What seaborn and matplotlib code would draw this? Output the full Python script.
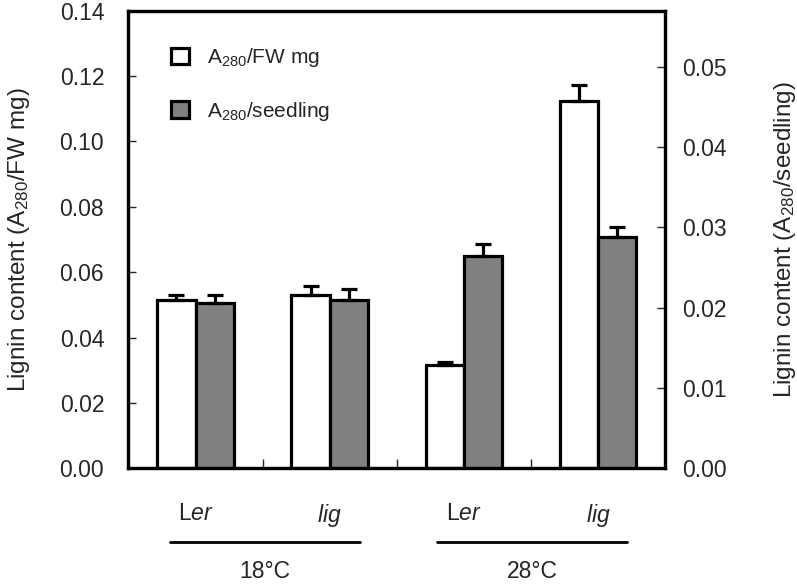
import matplotlib
matplotlib.use('Agg')
import matplotlib.pyplot as plt
import matplotlib.transforms as mtransforms
from matplotlib.patches import Patch
import seaborn as sns
import pandas as pd
import numpy as np

# Daten
categories = ['Ler 18', 'lig 18', 'Ler 28', 'lig 28']
tick_labels = [r'L$\mathit{er}$', r'$\mathit{lig}$', r'L$\mathit{er}$', r'$\mathit{lig}$']
groups = ['18°C', '28°C']
series = ['A280/FW mg', 'A280/seedling']
fw_mean = [0.0515, 0.0530, 0.0316, 0.1123]
fw_err = [0.0015, 0.0028, 0.0009, 0.0051]
seedling_mean = [0.0206, 0.0210, 0.0264, 0.0288]
seedling_err = [0.0010, 0.0013, 0.0015, 0.0013]

sns.set_style('ticks')
plt.rcParams['font.family'] = ['Liberation Sans', 'DejaVu Sans']
plt.rcParams['mathtext.fontset'] = 'custom'
plt.rcParams['mathtext.rm'] = 'Liberation Sans'
plt.rcParams['mathtext.it'] = 'Liberation Sans:italic'
plt.rcParams['mathtext.default'] = 'regular'

palette = {series[0]: 'white', series[1]: '#808080'}
lw = 2.3

df_fw = pd.DataFrame({'cat': categories, 'value': fw_mean, 'series': series[0]})
df_sd = pd.DataFrame({'cat': categories, 'value': seedling_mean, 'series': series[1]})

fig = plt.figure(figsize=(7.97, 5.84), dpi=100)
ax = fig.add_axes([0.1612, 0.1981, 0.6732, 0.7836])
ax2 = ax.twinx()

sns.barplot(data=df_fw, x='cat', y='value', hue='series', hue_order=series,
            order=categories, palette=palette, width=0.571, saturation=1, dodge=True,
            edgecolor='black', linewidth=lw, legend=False, ax=ax)
sns.barplot(data=df_sd, x='cat', y='value', hue='series', hue_order=series,
            order=categories, palette=palette, width=0.571, saturation=1, dodge=True,
            edgecolor='black', linewidth=lw, legend=False, ax=ax2)

# Fehlerbalken nur nach oben
for a, means, errs in [(ax, fw_mean, fw_err), (ax2, seedling_mean, seedling_err)]:
    bars = sorted(a.patches, key=lambda p: p.get_x())
    xs = [p.get_x() + p.get_width() / 2 for p in bars]
    a.errorbar(xs, means, yerr=[np.zeros(len(errs)), errs], fmt='none',
               ecolor='black', elinewidth=lw, capsize=5.6, capthick=lw)

ax.set_xlim(-0.5, 3.5)
ax.set_ylim(0, 0.14)
ax2.set_ylim(0, 0.057)
ax.set_yticks(np.arange(0, 0.141, 0.02))
ax.set_yticklabels([f'{v:.2f}' for v in np.arange(0, 0.141, 0.02)])
ax2.set_yticks(np.arange(0, 0.051, 0.01))
ax2.set_yticklabels([f'{v:.2f}' for v in np.arange(0, 0.051, 0.01)])

ax.set_xticks(range(4))
ax.set_xticklabels(tick_labels)
ax.set_xticks([0.5, 1.5, 2.5], minor=True)
ax.tick_params(axis='x', which='major', length=0, pad=24, labelsize=16.5)
ax.tick_params(axis='x', which='minor', direction='in', length=6.5, width=1)
ax.tick_params(axis='y', direction='in', length=5.5, width=1, pad=17.5, labelsize=16.5)
ax2.tick_params(axis='y', direction='in', length=5.5, width=1, pad=12.5, labelsize=16.5)
ax.set_xlabel('')
ax2.set_xlabel('')

ax.set_ylabel(r'Lignin content (A$_{280}$/FW mg)', fontsize=17.5)
ax2.set_ylabel(r'Lignin content (A$_{280}$/seedling)', fontsize=17.5)
ax.yaxis.set_label_coords(-0.18, 0.5)
ax2.yaxis.set_label_coords(1.199, 0.5)

for a in (ax, ax2):
    for s in a.spines.values():
        s.set_visible(True)
        s.set_linewidth(lw)
        s.set_color('black')

# Gruppenlinien und Temperaturen
trans = mtransforms.blended_transform_factory(ax.transData, ax.transAxes)
for (x0, x1), g in zip([(-0.19, 1.226), (1.80, 3.217)], groups):
    ax.plot([x0, x1], [-0.161, -0.161], color='black', lw=2, transform=trans, clip_on=False)
    ax.text((x0 + x1) / 2, -0.226, g, transform=trans, ha='center', va='center', fontsize=16.5)

handles = [Patch(facecolor=palette[s], edgecolor='black', linewidth=lw) for s in series]
labels = [r'A$_{280}$/FW mg', r'A$_{280}$/seedling']
ax2.legend(handles, labels, loc='upper left', bbox_to_anchor=(0.08, 0.922), frameon=False,
           fontsize=15, handlelength=0.85, handleheight=0.85, handletextpad=0.85,
           labelspacing=1.45, borderpad=0, borderaxespad=0)

plt.savefig('out.png', dpi=100)
